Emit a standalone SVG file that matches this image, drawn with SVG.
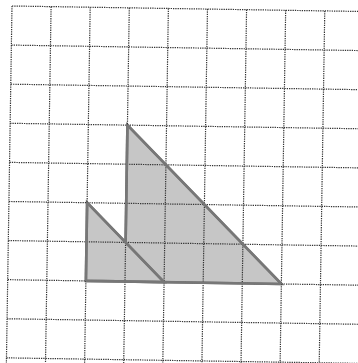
<svg xmlns="http://www.w3.org/2000/svg" width="358" height="363" viewBox="0 0 358 363">
<style>
.grid line{stroke:#333333;stroke-width:1.2;stroke-dasharray:1.3 1;fill:none}
.tri{fill:#c6c6c6;stroke:#777777;stroke-width:2.6;stroke-linejoin:miter}
</style>
<rect width="358" height="363" fill="#ffffff"/>
<g transform="translate(12,6) rotate(0.9)">
<g id="triangles">
<polygon id="large-triangle" class="tri" points="117.3,117.3 117.3,273.7 273.7,273.7"/>
<polygon id="small-triangle" class="tri" points="78.2,195.5 78.2,273.7 156.4,273.7"/>
</g>
<g id="grid" class="grid">
<line x1="0" y1="0" x2="360" y2="0"/>
<line x1="0" y1="39.1" x2="360" y2="39.1"/>
<line x1="0" y1="78.2" x2="360" y2="78.2"/>
<line x1="0" y1="117.3" x2="360" y2="117.3"/>
<line x1="0" y1="156.4" x2="360" y2="156.4"/>
<line x1="0" y1="195.5" x2="360" y2="195.5"/>
<line x1="0" y1="234.6" x2="360" y2="234.6"/>
<line x1="0" y1="273.7" x2="360" y2="273.7"/>
<line x1="0" y1="312.8" x2="360" y2="312.8"/>
<line x1="0" y1="351.9" x2="360" y2="351.9"/>
<line x1="0" y1="0" x2="0" y2="370"/>
<line x1="39.1" y1="0" x2="39.1" y2="370"/>
<line x1="78.2" y1="0" x2="78.2" y2="370"/>
<line x1="117.3" y1="0" x2="117.3" y2="370"/>
<line x1="156.4" y1="0" x2="156.4" y2="370"/>
<line x1="195.5" y1="0" x2="195.5" y2="370"/>
<line x1="234.6" y1="0" x2="234.6" y2="370"/>
<line x1="273.7" y1="0" x2="273.7" y2="370"/>
<line x1="312.8" y1="0" x2="312.8" y2="370"/>
</g>
<g id="outlines" fill="none" stroke="#777777" stroke-width="2.6">
<line x1="117.3" y1="117.3" x2="273.7" y2="273.7"/>
<line x1="117.3" y1="117.3" x2="117.3" y2="234.6"/>
<line x1="78.2" y1="195.5" x2="156.4" y2="273.7"/>
<line x1="78.2" y1="195.5" x2="78.2" y2="273.7"/>
<line x1="78.2" y1="273.7" x2="273.7" y2="273.7"/>
</g>
</g>
</svg>
